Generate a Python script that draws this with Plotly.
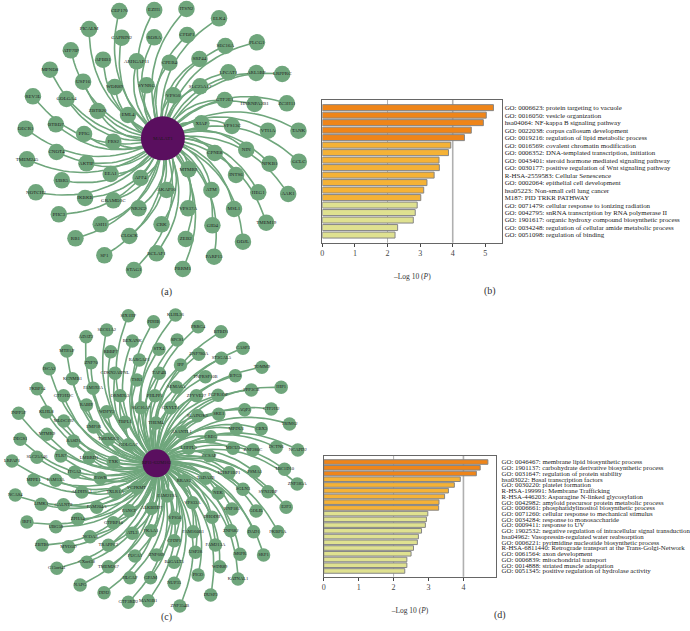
import plotly.graph_objects as go

W, H = 690, 631

# network (a), layout coordinates
hub_a = "MALAT1"
hub_a_xy = (484, 415)
genes_a = ["CEP170", "EZH1", "ITSN2", "ELK4", "PICALM", "CAPRIN2", "RORA", "CFDP1", "SEC16A", "PLCG1",
           "ATF7IP", "APBB1", "ARHGAP11", "CPEB4", "SRP44", "MPND8", "USP16", "WDR89", "SYNRG", "LPCAT1",
           "ARL5BP", "LRPPRC", "SLC25A17", "VPS50", "GOLGA4", "REV3L", "GTF2E1", "HNRNPA2B1", "ZC3H11",
           "ZBTB20", "EML4", "XIAP", "VPS13C", "VTI1A", "TANK", "BTBD7", "PPIG", "FRS2", "DECR1", "CNOT4",
           "NIN", "GCLC", "CPNE8", "TMEM245", "AKTIP", "EEA1", "NFKB1", "MTMR9", "INTS6", "UBR5", "AFF4",
           "NOTCH2", "IKBKB", "GRAMD1C", "AKAP10", "ATM", "HEG1", "AAK1", "NR2C2", "VPS37A", "MSL1", "PHC3",
           "ASH1", "CRK", "GID4", "TMEM19", "RB1", "CLOCK", "ZEB2", "ODJL", "SP1", "BCLAF1", "PARP15",
           "STAG1", "PBRM1"]
x_a = [353, 458, 555, 653, 262, 360, 458, 557, 672, 767,
       207, 304, 405, 504, 594, 144, 244, 339, 435, 681,
       765, 843, 596, 515, 194, 93, 670, 760, 857,
       288, 379, 600, 692, 800, 892, 162, 247, 335, 71, 164,
       735, 893, 640, 75, 254, 327, 805, 561, 704, 180, 417,
       102, 250, 335, 495, 630, 771, 861, 411, 560, 698, 171,
       297, 480, 633, 795, 221, 383, 553, 725, 308, 465, 638,
       397, 544]
y_a = [33, 30, 27, 55, 87, 113, 112, 105, 138, 127,
       151, 179, 184, 188, 177, 209, 245, 261, 256, 217,
       219, 222, 259, 286, 297, 289, 300, 312, 310,
       333, 345, 370, 378, 392, 392, 373, 402, 425, 386, 456,
       449, 485, 459, 478, 490, 522, 491, 508, 525, 541, 534,
       577, 594, 601, 570, 570, 577, 582, 625, 625, 627, 643,
       673, 673, 676, 668, 715, 708, 717, 725, 766, 760, 770,
       810, 807]

# network (c)
hub_c = "RP11-632M162"
hub_c_xy = (465, 460)
genes_c = ["SIX1HP", "KLHL36", "PDHB", "PRRG4", "BTBD1", "SEC61A2", "ADAT2", "BEXANK", "SPCS1", "STX4",
           "MTPAP", "RBBP7", "ZNF780A", "ST3GAL5", "CASP3", "RARGAP1", "ZNF70", "ISCA2", "IPP", "TSR1",
           "TAF4B", "TOMM9", "KCNMB1", "CDKN2AIPNL", "TNFRSF10B", "BTG3", "FKBP14", "FAM192A", "GTF2H2C",
           "SEMA6A", "ORMDL3", "PHLPP1", "ZFYVE27", "FGFR1OP", "HIP1", "PPP3CB", "RABIF", "WDFY2", "SLC16A7",
           "GXYLT1", "KLHL8", "AQP3", "GTF2H2", "SKE1", "INPP5F", "SLAIN2K1", "MLOC192", "TBPL1", "THEM4",
           "TRIM62", "EMP1R", "MPDU1", "CBX3", "TMEM263", "MTMR9", "DEGS1", "ASANTL1", "CREG", "GOLGA7",
           "RASD1", "DCTN6", "NCAPD2", "ZNF280C", "MICU3", "LHFPL5", "TLR7", "LMBRD1", "SLC25A46", "TXK",
           "CCSAP", "TBC1D10", "LRPAP1", "ITGA2", "UHRF1BP1", "PSMA1", "ZNF385A", "PAWR", "RRAS2", "FAM13A",
           "MPPE1", "TADA2B", "SGLN3", "SYNJ2BP", "ALDH9A1", "VCPKMT", "FAM219A", "TXLR1A", "NEK", "E2F3",
           "GOLIL", "RNF185", "NCAS4", "LIMK1", "GALNT9", "FAM204A", "FANCF", "ALKBHD7", "VPS33A", "DHODH",
           "IRF1", "UBG58", "ZPHA4", "GTPBP10", "VPS50", "FKBP1A", "DAD1", "ZNF682", "FKAA1", "FAM160B1",
           "ATL3", "NCOA3", "ZBTB6", "MYO5D", "TRAPPC2", "CFDP1", "USP28", "M6PR", "FAM213A", "SRF1",
           "FUCA1", "ZNF669", "B4GALT5", "CXorf38", "TMEM267", "C15orf41", "WDR89", "PIGO", "KATNAL1",
           "HLCAP", "GPAM", "NUP35", "NAPG", "DDI2", "DUSP2", "GTF3RD2", "MAN1B1", "ZNF354B"]
x_c = [380, 522, 456, 590, 659, 315, 253, 392, 527, 472,
       195, 327, 592, 660, 725, 413, 268, 142, 537, 406,
       473, 782, 212, 340, 612, 702, 106, 274, 185,
       525, 355, 460, 585, 650, 840, 750, 254, 315, 418,
       507, 133, 730, 810, 652, 50, 588, 186, 370, 463,
       865, 276, 705, 780, 320, 135, 55, 540, 628, 380,
       215, 825, 890, 755, 695, 562, 177, 262, 105, 335,
       623, 850, 30, 218, 683, 760, 888, 296, 547, 162,
       95, 613, 725, 800, 240, 405, 497, 340, 650, 855,
       765, 692, 40, 118, 185, 285, 383, 450, 573, 632,
       75, 162, 228, 335, 520, 830, 757, 688, 448, 575,
       392, 265, 120, 200, 320, 518, 582, 716, 642, 787,
       400, 465, 518, 255, 320, 165, 655, 590, 710,
       385, 447, 518, 235, 307, 628, 380, 440, 535]
y_c = [17, 15, 35, 50, 65, 60, 80, 93, 90, 118,
       123, 125, 133, 145, 115, 150, 158, 176, 165, 210,
       190, 172, 206, 190, 200, 197, 236, 235, 257,
       232, 257, 257, 257, 256, 232, 240, 285, 305, 293,
       293, 306, 299, 297, 313, 310, 317, 333, 337, 339,
       342, 351, 357, 356, 388, 373, 388, 367, 380, 404,
       393, 412, 420, 420, 415, 415, 438, 443, 442, 457,
       437, 478, 453, 487, 488, 485, 522, 505, 512, 511,
       510, 505, 538, 545, 546, 533, 558, 547, 550, 592,
       603, 597, 555, 583, 584, 592, 602, 595, 578, 622,
       636, 650, 628, 638, 625, 665, 665, 662, 662, 665,
       670, 680, 705, 710, 706, 692, 727, 733, 705, 735,
       738, 735, 757, 757, 770, 775, 770, 795, 807,
       803, 803, 820, 825, 848, 855, 877, 872, 888]

# enrichment (b)
terms_b = ["GO: 0006623: protein targeting to vacuole", "GO: 0016050: vesicle organization",
           "hsa04064: NF-kappa B signaling pathway", "GO: 0022038: corpus callosum development",
           "GO: 0019216: regulation of lipid metabolic process", "GO: 0016569: covalent chromatin modification",
           "GO: 0006352: DNA-templated transcription, initiation",
           "GO: 0043401: steroid hormone mediated signaling pathway",
           "GO: 0030177: positive regulation of Wnt signaling pathway", "R-HSA-2559583: Cellular Senescence",
           "GO: 0002064: epithelial cell development", "hsa05223: Non-small cell lung cancer",
           "M187: PID TRKR PATHWAY", "GO: 0071479: cellular response to ionizing radiation",
           "GO: 0042795: snRNA transcription by RNA polymerase II",
           "GO: 1901617: organic hydroxy compound biosynthetic process",
           "GO: 0034248: regulation of cellular amide metabolic process", "GO: 0051098: regulation of binding"]
vals_b = [5.25, 5.03, 4.94, 4.57, 4.36, 3.94, 3.87, 3.58, 3.59, 3.43, 3.21, 3.11, 3.02, 2.91, 2.85, 2.79, 2.31, 2.23]

# enrichment (d)
terms_d = ["GO: 0046467: membrane lipid biosynthetic process", "GO: 1901137: carbohydrate derivative biosynthetic process",
           "GO: 0031647: regulation of protein stability", "hsa03022: Basal transcription factors",
           "GO: 0030220: platelet formation", "R-HSA-199991: Membrane Trafficking",
           "R-HSA-446203: Asparagine N-linked glycosylation", "GO: 0042982: amyloid precursor protein metabolic process",
           "GO: 0006661: phosphatidylinositol biosynthetic process", "GO: 0071260: cellular response to mechanical stimulus",
           "GO: 0034284: response to monosaccharide", "GO: 0009411: response to UV",
           "GO: 1902532: negative regulation of intracellular signal transduction",
           "hsa04962: Vasopressin-regulated water reabsorption", "GO: 0006221: pyrimidine nucleotide biosynthetic process",
           "R-HSA-6811440: Retrograde transport at the Trans-Golgi-Network", "GO: 0061564: axon development",
           "GO: 0006839: mitochondrial transport", "GO: 0014888: striated muscle adaptation",
           "GO: 0051345: positive regulation of hydrolase activity"]
vals_d = [4.70, 4.48, 4.37, 3.91, 3.74, 3.57, 3.46, 3.30, 3.29, 2.98, 2.94, 2.91, 2.80, 2.71, 2.68, 2.57, 2.50, 2.38, 2.38, 2.32]

SERIF = "Liberation Serif"
NODE = "#6fa67c"
HUB = "#5a0f5f"
ORANGE, AMBER, PALE = "#ef8519", "#f5b236", "#dfe190"


def curve(hub, x, y, bend=0.33, n=24):
    # quadratic bezier from the hub out to a node, bent counter-clockwise
    xs, ys = [], []
    for px, py in zip(x, y):
        dx, dy = px - hub[0], py - hub[1]
        cx, cy = hub[0] + dx / 2 + bend * dy, hub[1] + dy / 2 - bend * dx
        for i in range(n + 1):
            t = i / n
            xs.append((1 - t) ** 2 * hub[0] + 2 * t * (1 - t) * cx + t ** 2 * px)
            ys.append((1 - t) ** 2 * hub[1] + 2 * t * (1 - t) * cy + t ** 2 * py)
        xs.append(None)
        ys.append(None)
    return xs, ys


def add_network(fig, hub_name, hub, genes, x, y, axes, node_size, hub_size, font_size):
    ex, ey = curve(hub, x, y)
    fig.add_trace(go.Scatter(x=ex, y=ey, mode="lines", line=dict(color=NODE, width=1.6),
                             hoverinfo="skip", xaxis=axes[0], yaxis=axes[1]))
    fig.add_trace(go.Scatter(x=x, y=y, mode="markers+text", text=genes, textposition="middle center",
                             marker=dict(size=node_size, color=NODE),
                             textfont=dict(family=SERIF, size=font_size, color="#222222"),
                             xaxis=axes[0], yaxis=axes[1], cliponaxis=False))
    fig.add_trace(go.Scatter(x=[hub[0]], y=[hub[1]], mode="markers+text", text=[hub_name],
                             textposition="middle center", marker=dict(size=hub_size, color=HUB),
                             textfont=dict(family=SERIF, size=font_size, color="#1a1a1a"),
                             xaxis=axes[0], yaxis=axes[1], cliponaxis=False))


def add_bars(fig, terms, vals, n_orange, n_amber, axes):
    colors = [ORANGE] * n_orange + [AMBER] * n_amber + [PALE] * (len(vals) - n_orange - n_amber)
    fig.add_trace(go.Bar(y=terms, x=vals, orientation="h", width=0.8,
                         marker=dict(color=colors, line=dict(color="#858585", width=1)),
                         xaxis=axes[0], yaxis=axes[1]))
    for v, w in [(2, 1), (4, 1.6)]:
        fig.add_shape(type="line", x0=v, x1=v, y0=0, y1=1, xref=axes[0], yref=axes[1] + " domain",
                      layer="below", line=dict(color="#b0b0b0", width=w))


def dom_x(a, b):
    return [a / W, b / W]


def dom_y(top, bottom):
    return [1 - bottom / H, 1 - top / H]


fig = go.Figure()
add_network(fig, hub_a, hub_a_xy, genes_a, x_a, y_a, ("x", "y"), 16.5, 44, 5)
add_bars(fig, terms_b, vals_b, 5, 8, ("x2", "y2"))
add_network(fig, hub_c, hub_c_xy, genes_c, x_c, y_c, ("x3", "y3"), 13.5, 28, 4.6)
add_bars(fig, terms_d, vals_d, 3, 6, ("x4", "y4"))

hidden = dict(visible=False, fixedrange=True)
bar_x = dict(showline=True, linecolor="#666666", linewidth=1, mirror=True, showgrid=False, zeroline=False,
             ticks="outside", ticklen=3, tickcolor="#444444", dtick=1, tick0=0,
             tickfont=dict(family=SERIF, size=8, color="#444444"))
bar_y = dict(showline=True, linecolor="#666666", linewidth=1, mirror=True, showgrid=False, side="right",
             ticks="", tickmode="linear", dtick=1, automargin=False)
x_title = dict(text="\u2013Log 10 (<i>P</i>)", font=dict(family=SERIF, size=7.5, color="#333333"), standoff=16)


def label_font(size):
    return dict(family=SERIF, size=size, color="#222222")


fig.update_layout(
    width=W, height=H, margin=dict(l=0, r=0, t=0, b=0), paper_bgcolor="white", plot_bgcolor="white",
    showlegend=False, bargap=0.2,
    xaxis=dict(domain=dom_x(0, 310), range=[0, 930], **hidden),
    yaxis=dict(domain=dom_y(0, 300), range=[900, 0], **hidden),
    xaxis3=dict(domain=dom_x(0, 310), range=[0, 930], **hidden),
    yaxis3=dict(domain=dom_y(310, 630), range=[960, 0], **hidden),
    xaxis2=dict(domain=dom_x(321.3, 501.7), range=[0, 5.52], anchor="y2", title=x_title, **bar_x),
    yaxis2=dict(domain=dom_y(100, 242.7), range=[18.02, -1.02], anchor="x2", tickfont=label_font(6.9), **bar_y),
    xaxis4=dict(domain=dom_x(322.7, 495.7), range=[0, 4.94], anchor="y4", title=x_title, **bar_x),
    yaxis4=dict(domain=dom_y(456, 576.7), range=[20.0, -1.05], anchor="x4", ticklabelstandoff=3,
                tickfont=label_font(6.8), **bar_y),
    annotations=[dict(text=t, x=px / W, y=1 - py / H, xref="paper", yref="paper", showarrow=False,
                      font=dict(family=SERIF, size=10, color="#333333"))
                 for t, px, py in [("(a)", 157, 292), ("(b)", 497, 291), ("(c)", 157, 625), ("(d)", 507, 623)]],
)

fig.write_html("out.html", config=dict(displayModeBar=False),
               post_script="document.body.style.margin='0';")
